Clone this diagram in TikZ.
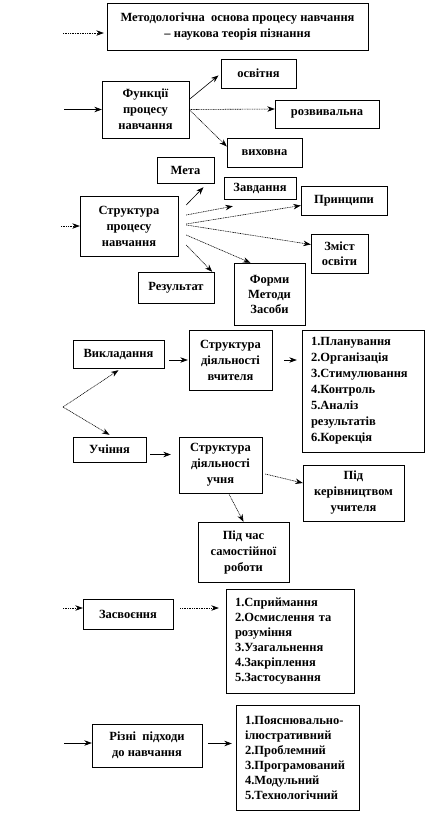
\documentclass[tikz,border=0pt]{standalone}
\usepackage{fontspec}
\setmainfont{Liberation Serif}
\usetikzlibrary{arrows.meta}

\begin{document}
\begin{tikzpicture}[
    x=1pt, y=-1pt,
    box/.style={rectangle, draw, thin, align=center, inner sep=0pt, font=\bfseries\fontsize{12.5}{16}\selectfont},
    listbox/.style={box, align=left, inner xsep=9pt, font=\bfseries\fontsize{12.5}{15}\selectfont},
    arr/.style={-{Stealth[length=7.5pt,width=5.5pt]}, line width=0.6pt},
    darr/.style={arr, dash pattern=on 1pt off 0.7pt}
]
\useasboundingbox (0,0) rectangle (426,820);

% Functions and structure of the process
\node[box, minimum width=261pt, minimum height=47pt] (metod) at (237.5,26.5) {Методологічна\ \ основа процесу навчання\\– наукова теорія пізнання};
\node[box, minimum width=87pt, minimum height=57pt] (func) at (145.5,109.5) {Функції\\процесу\\навчання};
\node[box, minimum width=75pt, minimum height=29pt] (osv) at (258.5,73.5) {освітня};
\node[box, minimum width=104pt, minimum height=28pt] (rozv) at (327,114) {розвивальна};
\node[box, minimum width=75pt, minimum height=29pt] (vykh) at (264.5,152.5) {виховна};

\node[box, minimum width=57pt, minimum height=26pt] (meta) at (185.5,170) {Мета};
\node[box, minimum width=72pt, minimum height=22pt] (zavd) at (260,188) {Завдання};
\node[box, minimum width=86pt, minimum height=29pt] (pryn) at (344,200.5) {Принципи};
\node[box, minimum width=98pt, minimum height=60pt] (strukt) at (129,226) {Структура\\процесу\\навчання};
\node[box, minimum width=57pt, minimum height=39pt, font=\bfseries\fontsize{12.5}{15}\selectfont] (zmist) at (339.5,253.5) {Зміст\\освіти};
\node[box, minimum width=76pt, minimum height=31pt] (rez) at (176,287.5) {Результат};
\node[box, minimum width=71pt, minimum height=62pt, font=\bfseries\fontsize{12.5}{15}\selectfont] (formy) at (269.5,294) {Форми\\Методи\\Засоби};

% Teaching and learning
\node[box, minimum width=91pt, minimum height=28pt] (vykl) at (118.5,354) {Викладання};
\node[box, minimum width=83pt, minimum height=60pt] (sdv) at (230.5,360) {Структура\\діяльності\\вчителя};
\node[listbox, text width=104pt, minimum height=122pt, font=\bfseries\fontsize{12.5}{16}\selectfont] (list1) at (363,391) {1.Планування\\2.Організація\\3.Стимулювання\\4.Контроль\\5.Аналіз\\результатів\\6.Корекція};
\node[box, minimum width=73pt, minimum height=25pt] (uch) at (109.5,449.5) {Учіння};
\node[box, minimum width=83pt, minimum height=56pt] (sdu) at (220.5,465) {Структура\\діяльності\\учня};
\node[box, minimum width=101pt, minimum height=56pt] (pidker) at (353.5,493) {Під\\керівництвом\\учителя};
\node[box, minimum width=91pt, minimum height=60pt] (pidchas) at (243.5,552) {Під час\\самостійної\\роботи};

% Assimilation and approaches
\node[box, minimum width=90pt, minimum height=30pt] (zasv) at (128,614) {Засвоєння};
\node[listbox, text width=110pt, minimum height=104pt] (list2) at (290,641) {1.Сприймання\\2.Осмислення та\\розуміння\\3.Узагальнення\\4.Закріплення\\5.Застосування};
\node[box, minimum width=110pt, minimum height=43pt] (rizni) at (147,745.5) {Різні\ \ підходи\\до навчання};
\node[listbox, text width=105pt, minimum height=105pt] (list3) at (297.5,757.5) {1.Пояснювально-\\ілюстративний\\2.Проблемний\\3.Програмований\\4.Модульний\\5.Технологічний};

% Free ends
\coordinate (in1) at (63,33);
\coordinate (in2) at (64,109.5);
\coordinate (in3) at (61,226);
\coordinate (br) at (63,407);
\coordinate (in5) at (63,608);
\coordinate (in6) at (64,743);

\draw[darr, shorten >=3pt] (in1) -- (in1 -| metod.west);
\draw[arr] (in2) -- (func.west);
\draw[arr, shorten >=3pt] ([yshift=10pt]func.east) -- (osv.west);
\draw[darr] (func.east) -- ([yshift=5pt]rozv.west);
\draw[darr] (func.east) -- ([yshift=6pt]vykh.west);

\draw[darr] (in3) -- (strukt.west);
\draw[arr] ([xshift=8pt,yshift=21pt]strukt.east) -- ([xshift=18pt,yshift=-4pt]meta.south);
\draw[darr] ([xshift=8pt,yshift=11pt]strukt.east) -- ([xshift=9pt,yshift=-7pt]zavd.south west);
\draw[darr] ([xshift=8pt,yshift=2pt]strukt.east) -- ([yshift=-5pt]pryn.west);
\draw[darr] ([xshift=8pt,yshift=1pt]strukt.east) -- ([yshift=9pt]zmist.west);
\draw[darr] ([xshift=8pt,yshift=-9pt]strukt.east) -- ([xshift=-19pt]formy.north);
\draw[darr] ([xshift=8pt,yshift=-19pt]strukt.east) -- ([xshift=-2pt]rez.north east);

\draw[darr] (br) -- ([yshift=-2pt]vykl.south);
\draw[darr] (br) -- ([yshift=2pt]uch.north);
\draw[arr, shorten <=5pt, shorten >=1pt] (vykl.east |- sdv.west) -- (sdv.west);
\draw[arr, shorten <=12pt, shorten >=5pt] (sdv.east) -- (sdv.east -| list1.west);
\draw[arr, shorten <=4pt, shorten >=8pt] ([yshift=-5pt]uch.east) -- ([yshift=-5pt]uch.east -| sdu.west);
\draw[darr] ([xshift=3pt,yshift=-9pt]sdu.east) -- ([yshift=10pt]pidker.west);
\draw[darr] ([xshift=8pt]sdu.south) -- (pidchas.north);

\draw[darr] (in5) -- (in5 -| zasv.west);
\draw[darr, shorten <=7pt, shorten >=7pt] ([yshift=6pt]zasv.east) -- ([yshift=6pt]zasv.east -| list2.west);
\draw[arr] (in6) -- (in6 -| rizni.west);
\draw[arr, shorten <=6pt, shorten >=4pt] ([yshift=2pt]rizni.east) -- ([yshift=2pt]rizni.east -| list3.west);

\end{tikzpicture}
\end{document}
